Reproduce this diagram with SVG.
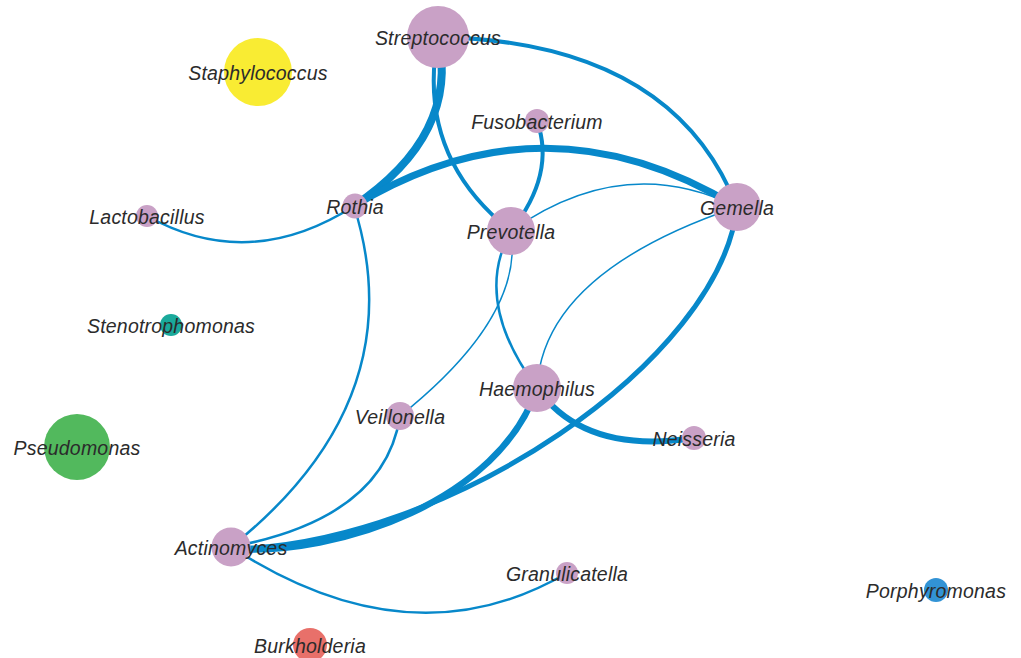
<svg xmlns="http://www.w3.org/2000/svg" width="1021" height="658" viewBox="0 0 1021 658">
<style>
.e{fill:none;stroke:#0788ca;stroke-linecap:round}
.n{fill:#c9a1c6}
text{font-family:"Liberation Sans",Arial,sans-serif;font-style:italic;font-size:19.5px;letter-spacing:0.2px;fill:#2b2b2b;text-anchor:middle}
</style>
<rect width="1021" height="658" fill="#ffffff"/>
<g id="edges">
<path class="e" d="M438,37 Q460,134.5 354,206" stroke-width="8"/>
<path class="e" d="M438,37 Q415.5,156 511,231" stroke-width="4"/>
<path class="e" d="M438,37 Q672.5,42 737,207" stroke-width="4"/>
<path class="e" d="M354,206 Q545,90 737,207" stroke-width="7"/>
<path class="e" d="M354,206 Q249.5,273 147,216" stroke-width="2.5"/>
<path class="e" d="M354,206 Q415,400 231,547" stroke-width="2.5"/>
<path class="e" d="M537,121 Q556,174 511,231" stroke-width="4"/>
<path class="e" d="M511,231 Q624,151 737,207" stroke-width="1.5"/>
<path class="e" d="M511,231 Q472,300.5 537,388" stroke-width="2.5"/>
<path class="e" d="M511,231 Q524.5,316.5 400,416" stroke-width="1.5"/>
<path class="e" d="M737,207 Q543,272.5 537,388" stroke-width="1.5"/>
<path class="e" d="M737,207 C720,360 450,545 231,549" stroke-width="5"/>
<path class="e" d="M537,388 C500,500 340,556 231,549" stroke-width="6.5"/>
<path class="e" d="M400,416 Q384.5,518.5 231,547" stroke-width="2.5"/>
<path class="e" d="M231,547 Q411,664 567,573" stroke-width="2.5"/>
<path class="e" d="M537,388 Q584.5,455 694,438" stroke-width="6"/>
</g>
<g id="node-streptococcus"><circle class="n" cx="438" cy="37" r="31"/><text x="438" y="45">Streptococcus</text></g>
<g id="node-staphylococcus"><circle cx="258" cy="72" r="34" fill="#f9ec33"/><text x="258" y="80">Staphylococcus</text></g>
<g id="node-fusobacterium"><circle class="n" cx="537" cy="121" r="12"/><text x="537" y="129">Fusobacterium</text></g>
<g id="node-rothia"><circle class="n" cx="355" cy="206" r="12.5"/><text x="355" y="214">Rothia</text></g>
<g id="node-prevotella"><circle class="n" cx="511" cy="231" r="24"/><text x="511" y="239">Prevotella</text></g>
<g id="node-gemella"><circle class="n" cx="737" cy="207" r="24"/><text x="737" y="215">Gemella</text></g>
<g id="node-lactobacillus"><circle class="n" cx="147" cy="216" r="11"/><text x="147" y="224">Lactobacillus</text></g>
<g id="node-stenotrophomonas"><circle cx="171" cy="325" r="11" fill="#1aa99b"/><text x="171" y="333">Stenotrophomonas</text></g>
<g id="node-pseudomonas"><circle cx="77" cy="447" r="33" fill="#52b95d"/><text x="77" y="455">Pseudomonas</text></g>
<g id="node-veillonella"><circle class="n" cx="400" cy="416" r="14"/><text x="400" y="424">Veillonella</text></g>
<g id="node-haemophilus"><circle class="n" cx="537" cy="388" r="24"/><text x="537" y="396">Haemophilus</text></g>
<g id="node-neisseria"><circle class="n" cx="694" cy="438" r="12"/><text x="694" y="446">Neisseria</text></g>
<g id="node-actinomyces"><circle class="n" cx="231" cy="547" r="19.5"/><text x="231" y="555">Actinomyces</text></g>
<g id="node-granulicatella"><circle class="n" cx="567" cy="573" r="11"/><text x="567" y="581">Granulicatella</text></g>
<g id="node-burkholderia"><circle cx="310" cy="645" r="17" fill="#e8706a"/><text x="310" y="653">Burkholderia</text></g>
<g id="node-porphyromonas"><circle cx="936" cy="590" r="12" fill="#3293d5"/><text x="936" y="598">Porphyromonas</text></g>
</svg>
